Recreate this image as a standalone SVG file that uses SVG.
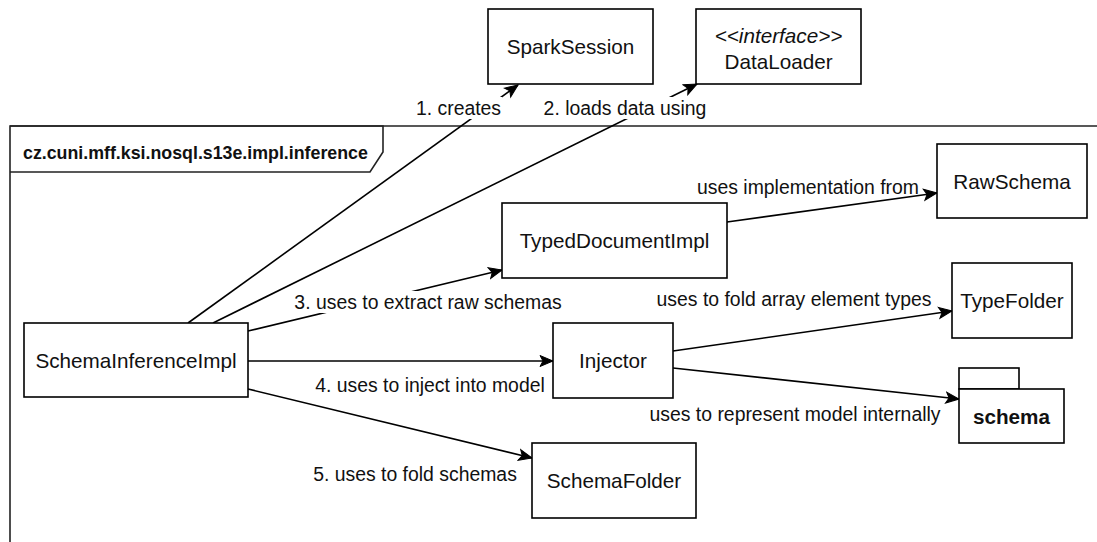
<svg xmlns="http://www.w3.org/2000/svg" width="1097" height="542" viewBox="0 0 1097 542">
  <defs>
    <marker id="arrow" markerUnits="userSpaceOnUse" markerWidth="16" markerHeight="14" viewBox="-14 -7 16 14" refX="0" refY="0" orient="auto">
      <path d="M -13 -5.5 L 0 0 L -13 5.5 L -10 0 Z" fill="#000" stroke="#000" stroke-width="1"/>
    </marker>
    <style>
      .box { fill: #fff; stroke: #000; stroke-width: 1.6; }
      .frame { fill: none; stroke: #222; stroke-width: 1.6; }
      .edge { fill: none; stroke: #000; stroke-width: 1.6; marker-end: url(#arrow); }
      .node { font-family: "Liberation Sans", Arial, sans-serif; font-size: 20.7px; fill: #111; text-anchor: middle; }
      .lbl { font-family: "Liberation Sans", Arial, sans-serif; font-size: 19.4px; fill: #111; text-anchor: middle; }
      .pkg { font-family: "Liberation Sans", Arial, sans-serif; font-size: 17.8px; font-weight: bold; fill: #111; }
      .bg { fill: #fff; }
    </style>
  </defs>

  <!-- package frame -->
  <g id="package-inference">
    <path class="frame" d="M 10 542 L 10 126 L 1100 126"/>
    <path class="frame" d="M 10 126 L 383 126 L 383 152 L 370 172 L 10 172"/>
    <text class="pkg" x="23" y="158.5">cz.cuni.mff.ksi.nosql.s13e.impl.inference</text>
  </g>

  <!-- connectors -->
  <g id="connectors">
    <line class="edge" x1="188" y1="323" x2="518" y2="85"/>
    <line class="edge" x1="213" y1="323" x2="697" y2="84"/>
    <line class="edge" x1="248" y1="331" x2="502" y2="270"/>
    <line class="edge" x1="248" y1="361" x2="553" y2="361"/>
    <line class="edge" x1="248" y1="389" x2="532" y2="458"/>
    <line class="edge" x1="727" y1="222" x2="937" y2="193"/>
    <line class="edge" x1="673" y1="351" x2="952" y2="311"/>
    <line class="edge" x1="673" y1="368" x2="959" y2="399"/>

    <rect class="bg" x="415" y="97" width="87" height="22"/>
    <text class="lbl" x="458.5" y="114.8">1. creates</text>
    <rect class="bg" x="543" y="97" width="164" height="22"/>
    <text class="lbl" x="625" y="114.8">2. loads data using</text>
    <rect class="bg" x="292" y="291" width="272" height="22"/>
    <text class="lbl" x="428" y="308.8">3. uses to extract raw schemas</text>
    <text class="lbl" x="430" y="391.8">4. uses to inject into model</text>
    <text class="lbl" x="415" y="480.8">5. uses to fold schemas</text>
    <text class="lbl" x="808" y="193.8">uses implementation from</text>
    <text class="lbl" x="794" y="305.8">uses to fold array element types</text>
    <text class="lbl" x="795" y="420.8">uses to represent model internally</text>
  </g>

  <g id="SparkSession">
    <rect class="box" x="488" y="9" width="165" height="75"/>
    <text class="node" x="570.5" y="53.5">SparkSession</text>
  </g>

  <g id="DataLoader">
    <rect class="box" x="696" y="9" width="165" height="75"/>
    <text class="node" x="778.5" y="42.5"><tspan font-style="italic">&lt;&lt;interface&gt;&gt;</tspan></text>
    <text class="node" x="778.5" y="68.5">DataLoader</text>
  </g>

  <g id="RawSchema">
    <rect class="box" x="937" y="144" width="150" height="74"/>
    <text class="node" x="1012" y="188.5">RawSchema</text>
  </g>

  <g id="TypedDocumentImpl">
    <rect class="box" x="502" y="203" width="225" height="75"/>
    <text class="node" x="614.5" y="248">TypedDocumentImpl</text>
  </g>

  <g id="TypeFolder">
    <rect class="box" x="952" y="263" width="120" height="75"/>
    <text class="node" x="1012" y="308">TypeFolder</text>
  </g>

  <g id="SchemaInferenceImpl">
    <rect class="box" x="24" y="323" width="224" height="74"/>
    <text class="node" x="136" y="367.5">SchemaInferenceImpl</text>
  </g>

  <g id="Injector">
    <rect class="box" x="553" y="323" width="120" height="75"/>
    <text class="node" x="613" y="368">Injector</text>
  </g>

  <g id="schema">
    <rect class="box" x="959" y="368" width="60" height="21"/>
    <rect class="box" x="959" y="389" width="105" height="54"/>
    <text class="node" x="1011.5" y="423.5" font-weight="bold">schema</text>
  </g>

  <g id="SchemaFolder">
    <rect class="box" x="532" y="443" width="164" height="75"/>
    <text class="node" x="614" y="488">SchemaFolder</text>
  </g>
</svg>
